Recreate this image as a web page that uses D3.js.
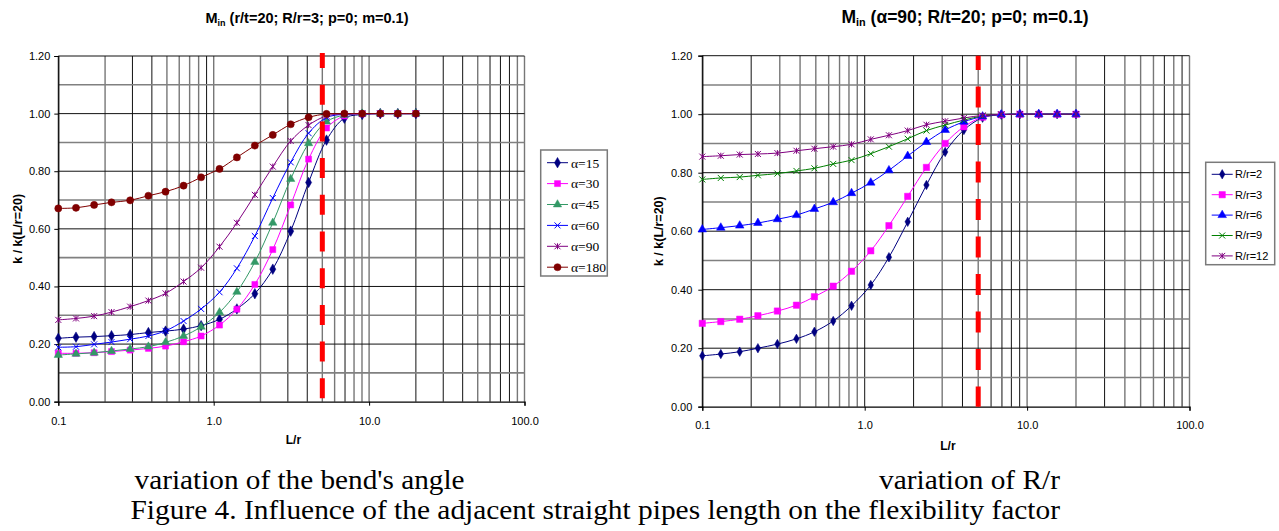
<!DOCTYPE html>
<html><head><meta charset="utf-8">
<script src="https://cdn.jsdelivr.net/npm/d3@7"></script>
<style>
body{margin:0;background:#fff;}
svg{display:block;font-family:Arial,"Liberation Sans",sans-serif;}
</style>
</head><body>
<script>
// ---------------- data ----------------
const lr = [0.10, 0.13, 0.17, 0.22, 0.29, 0.38, 0.49, 0.64, 0.83, 1.09, 1.41, 1.84, 2.40, 3.13, 4.08, 5.32, 6.93, 9.03, 11.8, 15.3, 20.0];

const angleNames = ["α=15", "α=30", "α=45", "α=60", "α=90", "α=180"];
const a15  = [0.220,0.224,0.226,0.229,0.233,0.240,0.245,0.252,0.264,0.286,0.322,0.375,0.460,0.592,0.761,0.908,0.984,0.997,1.000,1.000,1.000];
const a30  = [0.168,0.168,0.170,0.174,0.179,0.185,0.193,0.208,0.228,0.266,0.321,0.407,0.528,0.683,0.842,0.950,0.992,0.999,1.000,1.000,1.000];
const a45  = [0.162,0.166,0.170,0.176,0.183,0.191,0.206,0.228,0.260,0.310,0.381,0.485,0.621,0.773,0.897,0.972,0.995,1.000,1.000,1.000,1.000];
const a60  = [0.189,0.191,0.199,0.207,0.217,0.228,0.246,0.280,0.322,0.380,0.463,0.575,0.707,0.831,0.932,0.986,0.998,1.000,1.000,1.000,1.000];
const a90  = [0.284,0.289,0.297,0.311,0.330,0.351,0.376,0.417,0.465,0.538,0.621,0.718,0.816,0.905,0.960,0.992,0.999,1.000,1.000,1.000,1.000];
const a180 = [0.671,0.673,0.683,0.692,0.699,0.715,0.729,0.750,0.779,0.808,0.848,0.889,0.926,0.963,0.987,0.999,1.000,1.000,1.000,1.000,1.000];

const ratioNames = ["R/r=2", "R/r=3", "R/r=6", "R/r=9", "R/r=12"];
const r2  = [0.174,0.180,0.188,0.200,0.214,0.232,0.256,0.293,0.345,0.416,0.511,0.632,0.758,0.871,0.946,0.988,0.998,1.000,1.000,1.000,1.000];
const r3  = [0.285,0.291,0.299,0.311,0.327,0.347,0.376,0.412,0.463,0.533,0.619,0.719,0.818,0.900,0.957,0.990,0.998,1.000,1.000,1.000,1.000];
const r6  = [0.606,0.612,0.619,0.628,0.641,0.655,0.676,0.699,0.730,0.766,0.808,0.857,0.905,0.946,0.974,0.992,0.999,1.000,1.000,1.000,1.000];
const r9  = [0.777,0.782,0.785,0.791,0.797,0.806,0.815,0.830,0.843,0.865,0.889,0.916,0.944,0.963,0.980,0.994,0.999,1.000,1.000,1.000,1.000];
const r12 = [0.855,0.858,0.862,0.864,0.867,0.875,0.882,0.889,0.897,0.914,0.928,0.944,0.964,0.976,0.987,0.996,0.999,1.000,1.000,1.000,1.000];

const xTickLabels = [0.1, 1, 10, 100];
const yTickLabels = [0, 0.2, 0.4, 0.6, 0.8, 1.0, 1.2];
const yGridValues = [0.1, 0.2, 0.3, 0.4, 0.5, 0.6, 0.7, 0.8, 0.9, 1.0, 1.1, 1.2];
const yMinorValues = [0.1, 0.3, 0.5, 0.7, 0.9, 1.1];
const limitLr = 5;

// ---------------- drawing ----------------
const SANS = "Arial, 'Liberation Sans', sans-serif";
const SERIF = "'Liberation Serif', 'Times New Roman', serif";
const svg = d3.select("body").append("svg").attr("width", 1279).attr("height", 531);

const markerPaths = {
  x: s => `M${-s},${-s}L${s},${s}M${-s},${s}L${s},${-s}`,
  star: s => `M${-s},${-s}L${s},${s}M${-s},${s}L${s},${-s}M0,${-s}L0,${s}`
};
function drawMarker(g, type, color, cx, cy, size) {
  if (type === "x" || type === "star") {
    g.append("path").attr("transform", `translate(${cx},${cy})`)
      .attr("d", markerPaths[type](size.h)).attr("fill", "none")
      .attr("stroke", color).attr("stroke-width", 1);
  } else {
    const sym = {diamond: d3.symbolDiamond, square: d3.symbolSquare, triangle: d3.symbolTriangle, circle: d3.symbolCircle}[type];
    g.append("path").attr("transform", `translate(${cx},${cy})`)
      .attr("d", d3.symbol().type(sym).size(size.a)()).attr("fill", color).attr("stroke", color).attr("stroke-width", 0.5);
  }
}

function drawChart(cfg) {
  const g = svg.append("g");
  const x = d3.scaleLog().domain([0.1, 100]).range([cfg.x0, cfg.x1]);
  const y = d3.scaleLinear().domain([0, 1.2]).range([cfg.y0, cfg.y1]);

  // vertical grid
  g.append("g").selectAll("line").data(x.ticks()).join("line")
    .attr("x1", d => x(d)).attr("x2", d => x(d))
    .attr("y1", cfg.y0).attr("y2", cfg.y1)
    .attr("stroke", d => cfg.darkV(d) ? "#111" : "#777").attr("stroke-width", d => cfg.darkV(d) ? 1 : 1.4);
  // horizontal grid
  const isMinor = d => yMinorValues.some(v => Math.abs(v - d) < 1e-6);
  g.append("g").selectAll("line").data(yGridValues).join("line")
    .attr("x1", cfg.x0).attr("x2", cfg.x1)
    .attr("y1", d => y(d)).attr("y2", d => y(d))
    .attr("stroke", d => isMinor(d) ? "#808080" : "#111")
    .attr("stroke-width", d => isMinor(d) ? 1.6 : 1);

  // axes
  const ya = g.append("g").attr("transform", `translate(${cfg.x0},0)`)
    .call(d3.axisLeft(y).tickValues(yTickLabels).tickFormat(d3.format(".2f")).tickSize(4).tickPadding(cfg.yPad));
  const xa = g.append("g").attr("transform", `translate(0,${cfg.y0})`)
    .call(d3.axisBottom(x).tickValues(xTickLabels).tickFormat(d3.format(".1f")).tickSize(4).tickPadding(cfg.xPad));
  [ya, xa].forEach(a => {
    a.select(".domain").attr("stroke", "#000").attr("stroke-width", 1.2);
    a.selectAll(".tick line").attr("stroke", "#000");
    a.selectAll("text").style("font-family", SANS).attr("font-size", 11).attr("fill", "#000");
  });

  // series
  const line = d3.line().x((d, i) => x(lr[i])).y(d => y(d)).curve(d3.curveCatmullRom.alpha(0.5));
  cfg.series.forEach(s => {
    g.append("path").attr("d", line(s.values)).attr("fill", "none")
      .attr("stroke", s.color).attr("stroke-width", 1);
  });
  cfg.series.forEach(s => {
    const mg = g.append("g");
    s.values.forEach((v, i) => drawMarker(mg, s.marker, s.color, x(lr[i]), y(v), s.size));
  });

  // red limit line
  g.append("line").attr("x1", x(limitLr)).attr("x2", x(limitLr))
    .attr("y1", cfg.redTop).attr("y2", cfg.y0)
    .attr("stroke", "#FF0000").attr("stroke-width", 5)
    .attr("stroke-dasharray", cfg.dash).attr("stroke-dashoffset", cfg.dashOffset);

  // titles
  const t = svg.append("text").attr("x", cfg.titleX).attr("y", 23).attr("text-anchor", "middle")
    .style("font-family", SANS).attr("font-weight", "bold").attr("font-size", cfg.titleSize);
  t.append("tspan").text("M");
  t.append("tspan").attr("font-size", cfg.titleSize * 0.62).attr("dy", 3).text("in");
  t.append("tspan").attr("dy", -3).text(" " + cfg.title);

  svg.append("text").attr("transform", `translate(${cfg.yLabelX},${(cfg.y0 + cfg.y1) / 2}) rotate(-90)`)
    .attr("text-anchor", "middle").style("font-family", SANS).attr("font-weight", "bold").attr("font-size", 12.5).text("k / k(L/r=20)");
  svg.append("text").attr("x", (cfg.x0 + cfg.x1) / 2 + 2).attr("y", cfg.xLabelY).attr("text-anchor", "middle")
    .style("font-family", SANS).attr("font-weight", "bold").attr("font-size", 12).text("L/r");

  // legend
  const L = cfg.legend;
  svg.append("rect").attr("x", L.x).attr("y", L.y).attr("width", L.w).attr("height", L.h)
    .attr("fill", "#fff").attr("stroke", "#7a7a7a").attr("stroke-width", 1.5);
  cfg.series.forEach((s, i) => {
    const yy = L.firstY + i * L.step;
    svg.append("line").attr("x1", L.lx0).attr("x2", L.lx1).attr("y1", yy).attr("y2", yy)
      .attr("stroke", s.color).attr("stroke-width", 1);
    drawMarker(svg, s.marker, s.color, (L.lx0 + L.lx1) / 2, yy, s.size);
    svg.append("text").attr("x", L.tx).attr("y", yy + L.font * 0.36).attr("font-size", L.font)
      .style("font-family", L.family).text(s.name);
  });
}

const sz = {d: {a: 32}, sq: {a: 36}, tri: {a: 30}, c: {a: 40}, x: {h: 3}, st: {h: 3}};

drawChart({
  x0: 58.3, x1: 524.5, y0: 401.7, y1: 56, redTop: 53,
  dash: "20,16.7", dashOffset: 5,
  darkV: d => [0.3, 0.4, 0.9, 3, 4, 7, 20, 30, 40, 60, 70, 80].some(v => Math.abs(v - d) < 1e-9),
  yPad: 4, xPad: 12,
  titleX: 307, titleSize: 14.5, title: "(r/t=20; R/r=3; p=0; m=0.1)",
  yLabelX: 22, xLabelY: 444,
  series: [
    {name: angleNames[0], values: a15,  color: "#000080", marker: "diamond",  size: sz.d},
    {name: angleNames[1], values: a30,  color: "#FF00FF", marker: "square",   size: sz.sq},
    {name: angleNames[2], values: a45,  color: "#339966", marker: "triangle", size: sz.tri},
    {name: angleNames[3], values: a60,  color: "#0000FF", marker: "x",        size: sz.x},
    {name: angleNames[4], values: a90,  color: "#800080", marker: "star",     size: sz.st},
    {name: angleNames[5], values: a180, color: "#800000", marker: "circle",   size: sz.c}
  ],
  legend: {x: 540.7, y: 150, w: 66.6, h: 126, firstY: 162.7, step: 20.9, lx0: 547, lx1: 568, tx: 571,
           font: 13.5, family: SERIF}
});

drawChart({
  x0: 702.3, x1: 1189.5, y0: 406.7, y1: 55.7, redTop: 55.7,
  dash: "21,16.5", dashOffset: 6.7,
  darkV: d => [0.2, 1, 2, 4, 6, 7, 8, 9, 30, 70, 90].some(v => Math.abs(v - d) < 1e-9),
  yPad: 6, xPad: 11,
  titleX: 965, titleSize: 17.5, title: "(α=90; R/t=20; p=0; m=0.1)",
  yLabelX: 663, xLabelY: 450,
  series: [
    {name: ratioNames[0], values: r2,  color: "#000080", marker: "diamond",  size: {a: 26}},
    {name: ratioNames[1], values: r3,  color: "#FF00FF", marker: "square",   size: {a: 40}},
    {name: ratioNames[2], values: r6,  color: "#0000FF", marker: "triangle", size: {a: 32}},
    {name: ratioNames[3], values: r9,  color: "#008000", marker: "x",        size: sz.x},
    {name: ratioNames[4], values: r12, color: "#800080", marker: "star",     size: sz.st}
  ],
  legend: {x: 1205.7, y: 162.3, w: 69, h: 102.4, firstY: 174.3, step: 20.4, lx0: 1211.7, lx1: 1232.7, tx: 1235,
           font: 11, family: SANS}
});

// captions
svg.append("text").attr("x", 134.6).attr("y", 489).style("font-family", SERIF).attr("font-size", 26.5)
  .attr("textLength", 330).attr("lengthAdjust", "spacingAndGlyphs").text("variation of the bend's angle");
svg.append("text").attr("x", 879).attr("y", 489).style("font-family", SERIF).attr("font-size", 26.5)
  .attr("textLength", 181).attr("lengthAdjust", "spacingAndGlyphs").text("variation of R/r");
svg.append("text").attr("x", 130.5).attr("y", 519).style("font-family", SERIF).attr("font-size", 26.5)
  .attr("textLength", 929.5).attr("lengthAdjust", "spacingAndGlyphs")
  .text("Figure 4. Influence of the adjacent straight pipes length on the flexibility factor");
</script>
</body></html>
